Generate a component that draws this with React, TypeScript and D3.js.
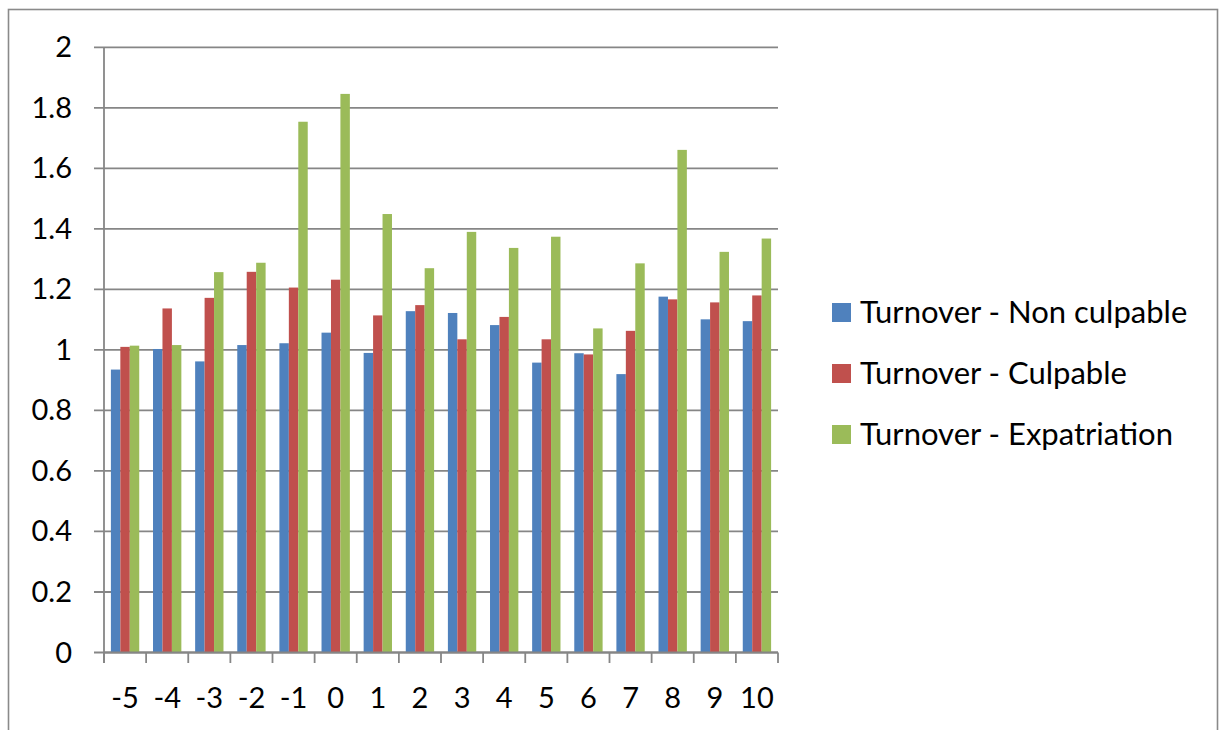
import React from "react";
import * as d3 from "d3";

const categories = ["-5", "-4", "-3", "-2", "-1", "0", "1", "2", "3", "4", "5", "6", "7", "8", "9", "10"];
const seriesNames = ["Turnover - Non culpable", "Turnover - Culpable", "Turnover - Expatriation"];
const nonCulpable = [0.935, 1.003, 0.962, 1.016, 1.022, 1.057, 0.99, 1.128, 1.122, 1.082, 0.958, 0.989, 0.92, 1.176, 1.101, 1.095];
const culpable = [1.01, 1.137, 1.172, 1.258, 1.206, 1.232, 1.114, 1.148, 1.035, 1.109, 1.035, 0.985, 1.063, 1.167, 1.157, 1.18];
const expatriation = [1.014, 1.016, 1.257, 1.288, 1.754, 1.846, 1.449, 1.27, 1.39, 1.337, 1.374, 1.071, 1.286, 1.661, 1.324, 1.368];
const yTicks = [0, 0.2, 0.4, 0.6, 0.8, 1, 1.2, 1.4, 1.6, 1.8, 2];
const colors = ["#4F81BD", "#C0504D", "#9BBB59"];

const W = 1225;
const H = 730;
const FONT = "Lato, 'Open Sans', sans-serif";

export default function App() {
  const series = [nonCulpable, culpable, expatriation];
  const x0 = d3.scaleBand<string>().domain(categories).range([104, 778]).padding(0);
  const x1 = d3
    .scaleBand<string>()
    .domain(seriesNames)
    .range([0, x0.bandwidth()])
    .paddingInner(0)
    .paddingOuter(0.73);
  const y = d3.scaleLinear().domain([0, 2]).range([652.5, 47.3]);
  const gridColor = "#868686";
  const bounds = [...categories.map((c) => x0(c) as number), 778];

  return (
    <svg
      width={W}
      height={H}
      style={{ position: "absolute", left: 0, top: 0, background: "#fff" }}
      fontFamily={FONT}
    >
      <rect x={0} y={0} width={W} height={H} fill="#fff" />
      {/* outer border */}
      <rect x={8.5} y={9.5} width={1209} height={740} fill="none" stroke="#8a8a8a" strokeWidth={1.6} />

      {/* gridlines */}
      {yTicks.map((t) => (
        <line key={"g" + t} x1={94} x2={778} y1={y(t)} y2={y(t)} stroke={gridColor} strokeWidth={1.8} />
      ))}

      {/* bars */}
      {categories.map((c, i) => (
        <g key={c} transform={`translate(${x0(c)},0)`}>
          {series.map((s, j) => (
            <rect
              key={j}
              x={x1(seriesNames[j])}
              y={y(s[i])}
              width={x1.bandwidth()}
              height={y(0) - y(s[i])}
              fill={colors[j]}
            />
          ))}
        </g>
      ))}

      {/* axes */}
      <line x1={104} x2={104} y1={47.3} y2={663} stroke={gridColor} strokeWidth={1.8} />
      <line x1={104} x2={778} y1={y(0)} y2={y(0)} stroke={gridColor} strokeWidth={1.8} />
      {bounds.map((bx, i) => (
        <line key={"xt" + i} x1={bx} x2={bx} y1={y(0)} y2={663} stroke={gridColor} strokeWidth={1.8} />
      ))}

      {/* y labels */}
      {yTicks.map((t) => (
        <text key={"yl" + t} x={72} y={y(t) + 10} textAnchor="end" fontSize={29} fill="#000">
          {String(t)}
        </text>
      ))}

      {/* x labels */}
      {categories.map((c) => (
        <text
          key={"xl" + c}
          x={(x0(c) as number) + x0.bandwidth() / 2}
          y={708}
          textAnchor="middle"
          fontSize={29}
          fill="#000"
        >
          {c}
        </text>
      ))}

      {/* legend */}
      {seriesNames.map((n, j) => (
        <g key={n} transform={`translate(832,${303 + j * 61})`}>
          <rect x={0} y={0} width={19} height={19} fill={colors[j]} />
          <text x={28} y={19.5} fontSize={31} fill="#000">
            {n}
          </text>
        </g>
      ))}
    </svg>
  );
}
